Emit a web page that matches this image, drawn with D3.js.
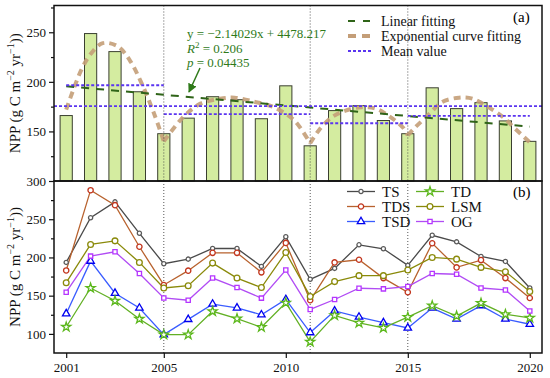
<!DOCTYPE html>
<html>
<head>
<meta charset="utf-8">
<script src="https://cdn.jsdelivr.net/npm/d3@7"></script>
<style>
  body { margin: 0; background: #fff; }
  svg text { font-family: "Liberation Serif", "Times New Roman", serif; }
</style>
</head>
<body>
<div id="chart"></div>
<script>
// Years and annual NPP (panel a)
const years = d3.range(2001, 2021);
const npp = [166, 248.7, 230.5, 190, 147.7, 163.4, 185, 182, 162.8, 196,
             135.5, 171, 176, 161, 147.7, 194, 173, 179, 160.6, 140];

// Linear fit coefficients (from the annotation)
const slope = -2.14029, intercept = 4478.217;

// Periods used for the piecewise means and fitted curves
const periods = [[2001, 2005], [2005, 2011], [2011, 2015], [2015, 2020]];
const breakYears = [2005, 2011, 2015];

// Exponential curve fitting (one list per period)
const expSeg1X = [2001, 2001.6, 2002, 2002.5, 2003.1, 2003.6, 2004.1, 2004.6, 2005];
const expSeg1Y = [172, 211, 228, 239, 236, 222, 198, 168, 140];
const expSeg2X = [2005, 2005.8, 2006.5, 2007.3, 2007.9, 2008.7, 2009.5, 2010.35, 2011];
const expSeg2Y = [140, 164.5, 178, 183, 184, 180, 174.5, 161, 138];
const expSeg3X = [2011, 2011.35, 2011.9, 2012.45, 2013.1, 2013.7, 2014.2, 2014.8, 2015];
const expSeg3Y = [138, 151, 164.5, 171, 174.5, 173, 166, 154, 146];
const expSeg4X = [2015, 2015.3, 2015.9, 2016.4, 2017.1, 2017.65, 2018.3, 2018.9, 2019.4, 2020];
const expSeg4Y = [146, 154, 168, 179.6, 184, 183, 174.5, 164.5, 152.7, 139];

// Panel b series
const seriesNames = ["TS", "TDS", "TSD", "TD", "LSM", "OG"];
const TS  = [193.5, 252, 272.7, 231.6, 191.8, 197.8, 211.7, 211.7, 188.3, 227, 171.4, 185.7, 216.5, 211.3, 189.6, 229, 220.4, 201.3, 194.8, 160];
const TDS = [183, 288, 268.4, 214, 164, 182.7, 206, 206, 180.5, 219, 144, 193.5, 197, 173, 154.5, 218.6, 187, 196.5, 173, 147];
const TSD = [126.4, 195.2, 153.2, 133.8, 99, 119, 139, 134, 125, 145, 101.7, 130, 122, 114.7, 107.8, 133.8, 119.5, 137, 119.5, 112.6];
const TD  = [109, 160, 143.3, 119.5, 99, 99, 129.5, 120, 108.7, 140.7, 89.6, 124.2, 114.3, 107.8, 122, 137, 123.4, 140.3, 125.6, 121];
const LSM = [167, 217, 221.7, 193.5, 160, 163, 192.6, 173, 160.6, 206.5, 149, 168.4, 176.2, 176.2, 183.5, 200, 197.8, 187, 181.4, 155.4];
const OG  = [154.5, 201.7, 207.4, 179, 147, 144, 173, 160.6, 146.8, 183.5, 132, 145, 159.7, 158.9, 162, 179, 178, 160, 157.5, 130];

const xTicks = [2001, 2005, 2010, 2015, 2020];
const yTicksA = [150, 200, 250];
const yTicksB = [100, 150, 200, 250, 300];

const W = 550, H = 378;
const left = 54, right = 542, topA = 5.5, mid = 181, bottom = 353;

const svg = d3.select("#chart").append("svg")
    .attr("width", W).attr("height", H);

const x = d3.scaleLinear().domain([2000.5, 2020.5]).range([left, right]);
const yA = d3.scaleLinear().domain([100, 277]).range([mid, topA]);
const yB = d3.scaleLinear().domain([75, 300]).range([bottom, mid]);

// Styles for each series in panel b
const style = {
  TS:  { line: "#4a4a4a", mark: "#5a5a5a", sym: d3.symbolCircle, size: 14, data: TS },
  TDS: { line: "#b8622e", mark: "#c2361e", sym: d3.symbolCircle, size: 22, data: TDS },
  TSD: { line: "#3a5cff", mark: "#0000f0", sym: d3.symbolTriangle, size: 24, data: TSD },
  TD:  { line: "#62b024", mark: "#5cb81c", sym: d3.symbolStar, size: 26, data: TD },
  LSM: { line: "#8a8a0a", mark: "#8a8a0a", sym: d3.symbolCircle, size: 26, data: LSM },
  OG:  { line: "#b14cf4", mark: "#b535ff", sym: d3.symbolSquare, size: 18, data: OG }
};

// ---------- Panel (a) ----------
const gA = svg.append("g");
const bw = (x(2002) - x(2001)) * 0.5;

gA.selectAll("rect.bar")
  .data(npp)
  .join("rect")
  .attr("class", "bar")
  .attr("x", (d, i) => x(years[i]) - bw / 2)
  .attr("y", d => yA(d))
  .attr("width", bw)
  .attr("height", d => mid - yA(d))
  .attr("fill", "#d4eca0")
  .attr("stroke", "#3a3f30")
  .attr("stroke-width", 1);

// vertical dotted lines at break years
[[topA, mid], [mid, bottom]].forEach(r => {
  svg.selectAll(null)
    .data(breakYears)
    .join("line")
    .attr("x1", d => x(d)).attr("x2", d => x(d))
    .attr("y1", r[0]).attr("y2", r[1])
    .attr("stroke", "#444").attr("stroke-width", 0.9)
    .attr("stroke-dasharray", "1,2");
});

// exponential curve fitting, one hump per period
const expLine = d3.line().x(d => x(d[0])).y(d => yA(d[1])).curve(d3.curveCatmullRom);
[[expSeg1X, expSeg1Y], [expSeg2X, expSeg2Y], [expSeg3X, expSeg3Y], [expSeg4X, expSeg4Y]]
  .forEach(([sx, sy]) => {
    gA.append("path")
      .attr("d", expLine(sx.map((v, i) => [v, sy[i]])))
      .attr("fill", "none")
      .attr("stroke", "#c49e78")
      .attr("stroke-opacity", 0.9)
      .attr("stroke-width", 4)
      .attr("stroke-dasharray", "7,5");
  });

// linear fitting
gA.append("line")
  .attr("x1", x(2001)).attr("y1", yA(slope * 2001 + intercept))
  .attr("x2", x(2020)).attr("y2", yA(slope * 2020 + intercept))
  .attr("stroke", "#2f6418").attr("stroke-width", 2)
  .attr("stroke-dasharray", "8,7");

// mean values
const meanAll = d3.mean(npp);
gA.append("line")
  .attr("x1", left).attr("x2", right)
  .attr("y1", yA(meanAll)).attr("y2", yA(meanAll))
  .attr("stroke", "#5a35f0").attr("stroke-width", 1.8)
  .attr("stroke-dasharray", "3,2");
periods.forEach(p => {
  const m = d3.mean(npp.filter((d, i) => years[i] >= p[0] && years[i] <= p[1]));
  gA.append("line")
    .attr("x1", x(p[0])).attr("x2", x(p[1]))
    .attr("y1", yA(m)).attr("y2", yA(m))
    .attr("stroke", "#5a35f0").attr("stroke-width", 1.8)
    .attr("stroke-dasharray", "3,2");
});

// annotation
const ann = gA.append("text").attr("fill", "#2f7a1a").attr("font-size", 13);
ann.append("tspan").attr("x", 187).attr("y", 38).text("y = \u22122.14029x + 4478.217");
const r2 = ann.append("tspan").attr("x", 187).attr("y", 53);
r2.append("tspan").attr("font-style", "italic").text("R");
r2.append("tspan").attr("font-size", 9).attr("dy", -5).text("2");
r2.append("tspan").attr("dy", 5).text(" = 0.206");
const pt = ann.append("tspan").attr("x", 187).attr("y", 67);
pt.append("tspan").attr("font-style", "italic").text("p");
pt.append("tspan").text(" = 0.04435");

svg.append("defs").append("marker")
  .attr("id", "arr").attr("viewBox", "0 0 10 10")
  .attr("refX", 9).attr("refY", 5)
  .attr("markerWidth", 6).attr("markerHeight", 6)
  .attr("orient", "auto")
  .append("path").attr("d", "M0,0L10,5L0,10z").attr("fill", "#2f7a1a");
gA.append("line")
  .attr("x1", 200).attr("y1", 68).attr("x2", 189).attr("y2", 92)
  .attr("stroke", "#2f7a1a").attr("stroke-width", 1.5)
  .attr("marker-end", "url(#arr)");

// legend (a)
const legA = [
  { t: "Linear fitting", c: "#2f6418", w: 2, dash: "7,8" },
  { t: "Exponential curve fitting", c: "#c49e78", w: 4, dash: "8,6" },
  { t: "Mean value", c: "#5a35f0", w: 1.8, dash: "3,2" }
];
legA.forEach((l, i) => {
  const yy = 21 + i * 15;
  gA.append("line").attr("x1", 348).attr("x2", 373).attr("y1", yy).attr("y2", yy)
    .attr("stroke", l.c).attr("stroke-width", l.w).attr("stroke-dasharray", l.dash);
  gA.append("text").attr("x", 381).attr("y", yy + 4.5).attr("font-size", 14)
    .attr("fill", "#111").text(l.t);
});
gA.append("text").attr("x", 513).attr("y", 22).attr("font-size", 15).text("(a)");

// ---------- Panel (b) ----------
const gB = svg.append("g");
const line = d3.line().x((d, i) => x(years[i])).y(d => yB(d));
seriesNames.forEach(n => {
  const s = style[n];
  gB.append("path")
    .attr("d", line(s.data))
    .attr("fill", "none").attr("stroke", s.line).attr("stroke-width", 1.3);
});
seriesNames.forEach(n => {
  const s = style[n];
  gB.selectAll(null)
    .data(s.data)
    .join("path")
    .attr("transform", (d, i) => `translate(${x(years[i])},${yB(d)})`)
    .attr("d", d3.symbol().type(s.sym).size(s.size))
    .attr("fill", "#fff").attr("stroke", s.mark).attr("stroke-width", 1.3);
});

// legend (b)
const legB = [["TS", 0, 0], ["TDS", 0, 1], ["TSD", 0, 2], ["TD", 1, 0], ["LSM", 1, 1], ["OG", 1, 2]];
legB.forEach(([n, col, row]) => {
  const s = style[n];
  const x0 = col === 0 ? 347 : 416, yy = 191.5 + row * 15;
  gB.append("line").attr("x1", x0).attr("x2", x0 + 28).attr("y1", yy).attr("y2", yy)
    .attr("stroke", s.line).attr("stroke-width", 1.3);
  gB.append("path").attr("transform", `translate(${x0 + 14},${yy})`)
    .attr("d", d3.symbol().type(s.sym).size(s.size))
    .attr("fill", "#fff").attr("stroke", s.mark).attr("stroke-width", 1.3);
  gB.append("text").attr("x", x0 + 35).attr("y", yy + 5).attr("font-size", 15)
    .attr("fill", "#111").text(n);
});
gB.append("text").attr("x", 513).attr("y", 197).attr("font-size", 15).text("(b)");

// ---------- Axes and frames ----------
function frame(y0, y1) {
  svg.append("rect").attr("x", left).attr("y", y0)
    .attr("width", right - left).attr("height", y1 - y0)
    .attr("fill", "none").attr("stroke", "#111").attr("stroke-width", 1.5);
}
frame(topA, mid);
frame(mid, bottom);

function yAxis(scale, ticks, minor) {
  const g = svg.append("g").attr("transform", `translate(${left},0)`);
  g.call(d3.axisLeft(scale).tickValues(ticks).tickSize(5).tickPadding(3));
  g.append("g").call(d3.axisLeft(scale).tickValues(minor).tickSize(3).tickFormat(""));
  g.selectAll(".domain").remove();
  g.selectAll("line").attr("stroke", "#111").attr("stroke-width", 1.2);
  g.selectAll("text").attr("font-size", 13).attr("fill", "#111")
    .attr("font-family", "Liberation Serif, serif");
}
yAxis(yA, yTicksA, [125, 175, 225, 275]);
yAxis(yB, yTicksB, [125, 175, 225, 275]);

const gx = svg.append("g").attr("transform", `translate(0,${bottom})`)
  .call(d3.axisBottom(x).tickValues(xTicks).tickFormat(d3.format("d")).tickSize(5).tickPadding(5));
gx.select(".domain").remove();
gx.selectAll("line").attr("stroke", "#111").attr("stroke-width", 1.2);
gx.selectAll("text").attr("font-size", 13).attr("fill", "#111")
  .attr("font-family", "Liberation Serif, serif");

// y titles
function yTitle(cy) {
  const t = svg.append("text")
    .attr("transform", `translate(20,${cy}) rotate(-90)`)
    .attr("text-anchor", "middle").attr("font-size", 15).attr("fill", "#111");
  t.append("tspan").text("NPP (g C m");
  t.append("tspan").attr("font-size", 10).attr("dy", -6).text("\u22122");
  t.append("tspan").attr("dy", 6).text(" yr");
  t.append("tspan").attr("font-size", 10).attr("dy", -6).text("\u22121");
  t.append("tspan").attr("dy", 6).text("))");
}
yTitle((topA + mid) / 2);
yTitle((mid + bottom) / 2);
</script>
</body>
</html>
